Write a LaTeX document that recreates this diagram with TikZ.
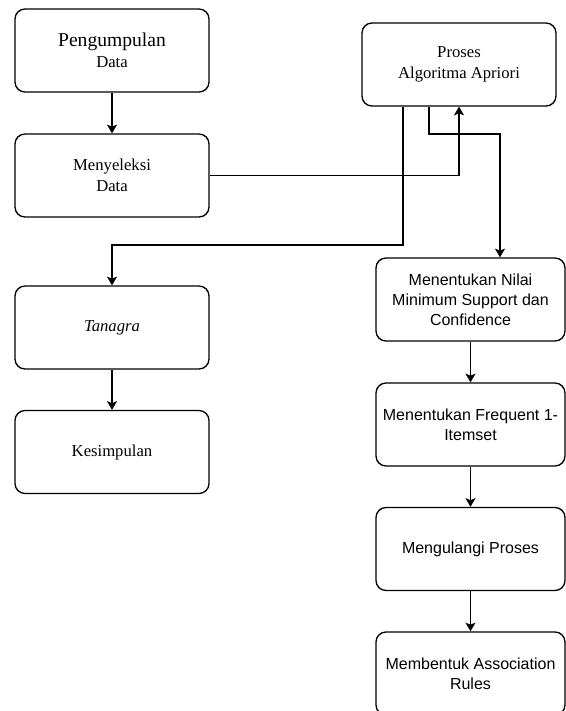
\documentclass[tikz,border=0pt]{standalone}
\usepackage{fontspec}
\setmainfont{Liberation Serif}
\setsansfont{Liberation Sans}
\usetikzlibrary{arrows.meta,calc}

\tikzset{
  stepbox/.style={draw, line width=1pt, rounded corners=7.5pt, align=center,
    minimum width=145.5pt, minimum height=62.25pt, inner sep=2pt},
  serifbox/.style={stepbox, font=\fontsize{12.5}{15.5}\selectfont},
  sansbox/.style={stepbox, minimum width=141.75pt, font=\sffamily\fontsize{12}{15}\selectfont},
  flow/.style={line width=1pt, -{Stealth[length=6.5pt,width=7.5pt,inset=1.5pt]}},
}

\begin{document}
\begin{tikzpicture}[x=0.75pt, y=-0.75pt]
    \useasboundingbox (0,0) rectangle (566,711);

    % ── Left column ──────────────────────────────────────────
    \node[serifbox] (pengumpulan) at (112,50.5)
      {{\fontsize{14.7}{17}\selectfont Pengumpulan}\\Data};
    \node[serifbox] (menyeleksi) at (112,175.5) {Menyeleksi\\Data};
    \node[serifbox] (tanagra) at (112,327.5) {\textit{Tanagra}};
    \node[serifbox] (kesimpulan) at (112,452) {Kesimpulan};

    % ── Apriori process ──────────────────────────────────────
    \node[serifbox] (proses) at (459,64.5) {Proses\\Algoritma Apriori};

    % Right column (steps)
    \node[sansbox] (nilai) at (470.5,299.5)
      {Menentukan Nilai\\Minimum Support dan\\Confidence};
    \node[sansbox] (frequent) at (470.5,424.5) {Menentukan Frequent 1-\\Itemset};
    \node[sansbox] (mengulangi) at (470.5,549) {Mengulangi Proses};
    \node[sansbox] (membentuk) at (470.5,673.5) {Membentuk Association\\Rules};

    % ── Connectors ───────────────────────────────────────────
    \draw[flow] (pengumpulan) -- (menyeleksi);
    \draw[flow] (tanagra) -- (kesimpulan);
    \draw[flow] (menyeleksi.east) -| (proses.south);

    % from Proses down to Tanagra
    \coordinate (lowbend) at (403,245);
    \draw[flow] (proses.south -| lowbend) -- (lowbend) -| (tanagra.north);

    % from Proses to the step column
    \coordinate (highbend) at (429,134);
    \coordinate (nilaiin) at ($(nilai.north)+(29.5,0)$);
    \draw[flow] (proses.south -| highbend) -- (highbend) -| (nilaiin);

    \foreach \a/\b in {nilai/frequent, frequent/mengulangi, mengulangi/membentuk}{
      \draw[flow] (\a) -- (\b);
    }
\end{tikzpicture}
\end{document}
